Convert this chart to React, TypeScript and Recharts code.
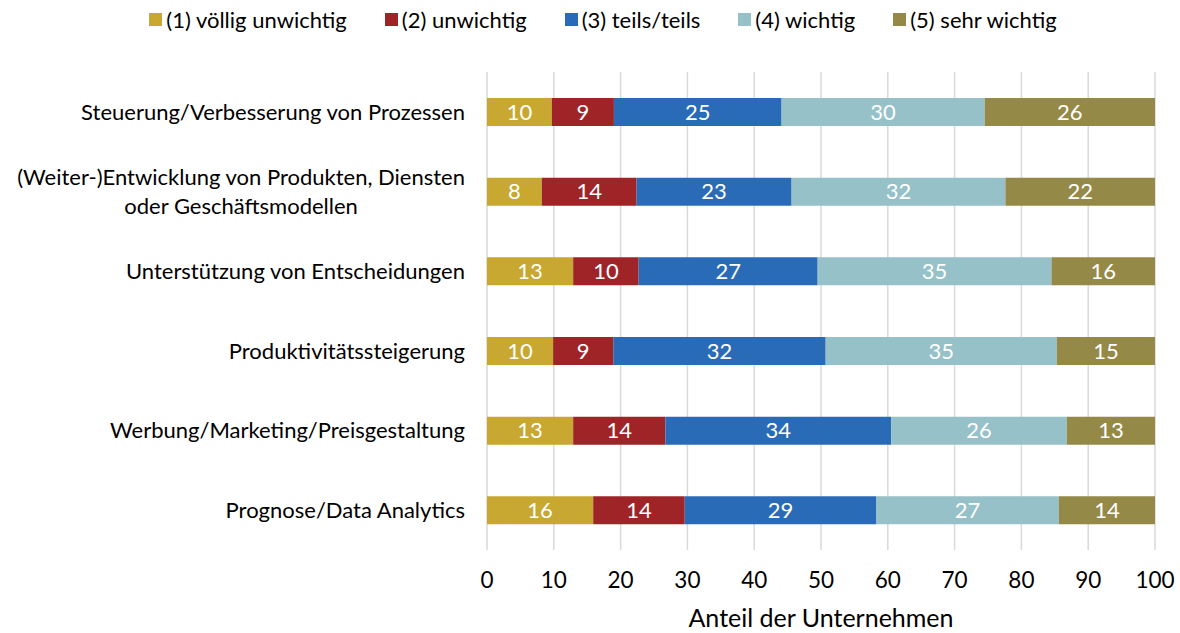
import React, { useLayoutEffect, useRef, useState } from 'react';
import { BarChart, Bar, XAxis, YAxis, CartesianGrid, LabelList } from 'recharts';

const categories = [
  'Steuerung/Verbesserung von Prozessen',
  '(Weiter-)Entwicklung von Produkten, Diensten\noder Geschäftsmodellen',
  'Unterstützung von Entscheidungen',
  'Produktivitätssteigerung',
  'Werbung/Marketing/Preisgestaltung',
  'Prognose/Data Analytics',
];

const seriesNames = [
  '(1) völlig unwichtig',
  '(2) unwichtig',
  '(3) teils/teils',
  '(4) wichtig',
  '(5) sehr wichtig',
];

const voelligUnwichtig = [9.7, 8.2, 12.9, 9.9, 12.9, 15.9];
const unwichtig = [9.3, 14.2, 9.8, 9.0, 13.8, 13.7];
const teilsTeils = [25.1, 23.2, 26.8, 31.8, 33.8, 28.7];
const wichtig = [30.4, 32.0, 35.0, 34.6, 26.3, 27.3];
const sehrWichtig = [25.5, 22.4, 15.5, 14.7, 13.2, 14.4];

const xTicks = [0, 10, 20, 30, 40, 50, 60, 70, 80, 90, 100];
const axisTitle = 'Anteil der Unternehmen';

const colors = ['#C8A830', '#9E2428', '#2A6BB8', '#96C1C8', '#958947'];
const keys = ['s1', 's2', 's3', 's4', 's5'];

const data = categories.map((name, i) => ({
  name,
  s1: voelligUnwichtig[i],
  s2: unwichtig[i],
  s3: teilsTeils[i],
  s4: wichtig[i],
  s5: sehrWichtig[i],
}));

const FONT = 'Lato, "Open Sans", sans-serif';
const FS = 22;

function CatTick(props: any) {
  const { x, y, payload } = props;
  const lines = String(payload.value).split('\n');
  const ref = useRef<SVGTextElement>(null);
  const [w, setW] = useState(0);
  useLayoutEffect(() => {
    if (ref.current) setW(ref.current.getComputedTextLength());
  }, [payload.value]);
  const common = { fontFamily: FONT, fontSize: FS, fill: '#000' };
  if (lines.length === 1) {
    return (
      <text x={x} y={y} dy="0.35em" textAnchor="end" {...common}>
        {lines[0]}
      </text>
    );
  }
  const lh = 29;
  return (
    <g>
      <text ref={ref} x={x} y={y - lh / 2} dy="0.35em" textAnchor="end" {...common}>
        {lines[0]}
      </text>
      <text x={x - w / 2} y={y + lh / 2} dy="0.35em" textAnchor="middle" {...common}>
        {lines[1]}
      </text>
    </g>
  );
}

function LegendBox() {
  return (
    <div
      style={{
        position: 'absolute',
        top: 6,
        left: 0,
        width: 1180,
        display: 'flex',
        justifyContent: 'center',
        paddingLeft: 26,
        boxSizing: 'border-box',
        fontFamily: FONT,
        fontSize: FS,
        color: '#000',
      }}
    >
      {seriesNames.map((n, i) => (
        <div
          key={n}
          style={{
            display: 'flex',
            alignItems: 'center',
            marginRight: i < seriesNames.length - 1 ? 38 : 0,
          }}
        >
          <span
            style={{
              display: 'inline-block',
              width: 13,
              height: 13,
              background: colors[i],
              marginRight: 4,
            }}
          />
          <span>{n}</span>
        </div>
      ))}
    </div>
  );
}

export default function App() {
  return (
    <div style={{ position: 'absolute', left: 0, top: 0, width: 1180, height: 633, background: '#fff' }}>
      <LegendBox />
      <BarChart
        width={1180}
        height={633}
        data={data}
        layout="vertical"
        margin={{ top: 72, right: 25, bottom: 0, left: 0 }}
        barSize={28}
      >
        <CartesianGrid horizontal={false} stroke="#D9D9D9" strokeWidth={1.5} />
        <XAxis
          type="number"
          domain={[0, 100]}
          ticks={xTicks}
          allowDataOverflow
          axisLine={false}
          tickLine={false}
          tickSize={0}
          tickMargin={22}
          height={83}
          interval={0}
          tick={{ fontSize: 22.5, fill: '#000', fontFamily: FONT }}
          label={{
            value: axisTitle,
            position: 'insideBottom',
            offset: 6,
            fontSize: 25,
            fill: '#000',
            fontFamily: FONT,
          }}
        />
        <YAxis
          type="category"
          dataKey="name"
          width={487}
          axisLine={false}
          tickLine={false}
          tickSize={0}
          tickMargin={22}
          interval={0}
          tick={<CatTick />}
        />
        {keys.map((k, i) => (
          <Bar key={k} dataKey={k} name={seriesNames[i]} stackId="a" fill={colors[i]} isAnimationActive={false}>
            <LabelList
              dataKey={k}
              position="center"
              fill="#fff"
              fontSize={FS}
              fontFamily={FONT}
              formatter={(v: any) => Math.round(Number(v))}
            />
          </Bar>
        ))}
      </BarChart>
    </div>
  );
}
